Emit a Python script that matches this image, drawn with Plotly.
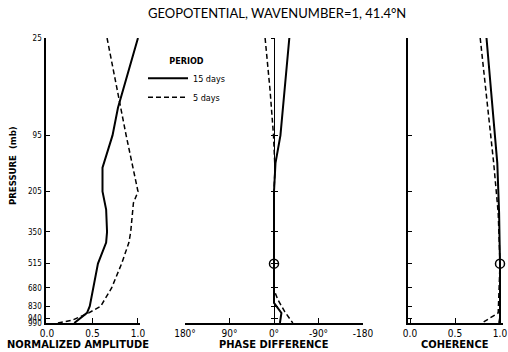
import numpy as np
import plotly.graph_objects as go

# ---------------- data ----------------
pressure_levels = [25, 95, 205, 350, 515, 680, 830, 940, 990]

amp15_p = [25, 65, 95, 148, 205, 262, 350, 400, 515, 680, 830, 890, 990]
amp15_v = [1.0, 0.78, 0.72, 0.61, 0.61, 0.65, 0.66, 0.65, 0.56, 0.51, 0.47, 0.44, 0.30]

amp5_p = [25, 51, 95, 205, 240, 350, 400, 515, 680, 830, 890, 960, 990]
amp5_v = [0.66, 0.77, 0.87, 1.0, 0.95, 0.92, 0.90, 0.82, 0.71, 0.59, 0.46, 0.28, 0.12]

ph15_p = [25, 95, 139, 205, 800, 891, 990]
ph15_v = [-31, -13, -3, 0, 0, -15, -12]

ph5_p = [25, 51, 95, 150, 205, 695, 775, 881, 990]
ph5_v = [18, 8, 1, -2, 0, 0, -8, -22, -38]

coh15_p = [25, 70, 139, 274, 515, 940, 990]
coh15_v = [0.85, 0.92, 0.97, 0.99, 1.0, 1.0, 0.99]

coh5_p = [25, 70, 139, 274, 387, 515, 891, 958, 990]
coh5_v = [0.78, 0.87, 0.93, 0.98, 0.99, 1.0, 0.98, 0.85, 0.80]

marker_p = [515]
marker_phase = [0]
marker_coh = [1.0]

amp_ticks = [0, 0.5, 1.0]
amp_ticktext = ["0.0", "0.5", "1.0"]
phase_ticks = [180, 90, 0, -90, -180]
phase_ticktext = ["180°", "90°", "0°", "-90°", "-180"]


# vertical scale: standard-atmosphere height of each pressure level
def std_height_km(p):
    p = np.asarray(p, dtype=float)
    z_trop = 44.331 * (1 - (p / 1013.25) ** 0.190263)
    z_strat = 11.0 + 6.3416 * np.log(226.32 / p)
    return np.where(p >= 226.32, z_trop, z_strat)


W, H = 508, 352
FONT = "DejaVu Sans Condensed, Liberation Sans Narrow, Liberation Sans, sans-serif"

fig = go.Figure()

solid = dict(color="black", width=2)
dashed = dict(color="black", width=1.5, dash="5px,3px")

fig.add_trace(go.Scatter(x=amp15_v, y=std_height_km(amp15_p), mode="lines", line=solid,
                         name="15 days", xaxis="x", yaxis="y", legendrank=1))
fig.add_trace(go.Scatter(x=amp5_v, y=std_height_km(amp5_p), mode="lines", line=dashed,
                         name="5 days", xaxis="x", yaxis="y", legendrank=2))
fig.add_trace(go.Scatter(x=ph15_v, y=std_height_km(ph15_p), mode="lines", line=solid,
                         showlegend=False, xaxis="x2", yaxis="y2"))
fig.add_trace(go.Scatter(x=ph5_v, y=std_height_km(ph5_p), mode="lines", line=dashed,
                         showlegend=False, xaxis="x2", yaxis="y2"))
fig.add_trace(go.Scatter(x=marker_phase, y=std_height_km(marker_p), mode="markers",
                         marker=dict(symbol="circle-open", size=9, color="black", line=dict(width=1.5)),
                         showlegend=False, xaxis="x2", yaxis="y2", cliponaxis=False))
fig.add_trace(go.Scatter(x=[0], y=std_height_km([515]), mode="markers", marker=dict(opacity=0),
                         showlegend=False, hoverinfo="skip", xaxis="x2", yaxis="y4"))
fig.add_trace(go.Scatter(x=coh15_v, y=std_height_km(coh15_p), mode="lines", line=solid,
                         showlegend=False, xaxis="x3", yaxis="y3"))
fig.add_trace(go.Scatter(x=coh5_v, y=std_height_km(coh5_p), mode="lines", line=dashed,
                         showlegend=False, xaxis="x3", yaxis="y3"))
fig.add_trace(go.Scatter(x=marker_coh, y=std_height_km(marker_p), mode="markers",
                         marker=dict(symbol="circle-open", size=9, color="black", line=dict(width=1.5)),
                         showlegend=False, xaxis="x3", yaxis="y3", cliponaxis=False))

zr = [float(std_height_km(990)), float(std_height_km(25))]
zt = [float(v) for v in std_height_km(pressure_levels)]
ydom = [29 / H, 314 / H]

yax = dict(range=zr, domain=ydom, tickvals=zt, showgrid=False, zeroline=False,
           showline=True, linecolor="black", linewidth=1.5, ticks="inside", ticklen=4,
           tickcolor="black", tickwidth=1.2, automargin=False)
xax = dict(showgrid=False, zeroline=False, showline=True, linecolor="black", linewidth=1.5,
           ticks="inside", ticklen=5, tickcolor="black", tickwidth=1.2, automargin=False,
           tickfont=dict(family=FONT, size=10, color="black"))


def label(text, x, y, size=11, angle=0):
    return dict(text=text, x=x / W, y=1 - y / H, xref="paper", yref="paper",
                xanchor="center", yanchor="middle", showarrow=False, textangle=angle,
                font=dict(family=FONT, size=size, color="black"))


fig.update_layout(
    width=W, height=H, margin=dict(l=0, r=0, t=0, b=0, autoexpand=False),
    paper_bgcolor="white", plot_bgcolor="white",
    font=dict(family=FONT, color="black"),
    xaxis=dict(xax, domain=[46.1 / W, 139.8 / W], range=[-0.01, 1.02], tickvals=amp_ticks,
               ticktext=amp_ticktext, anchor="y"),
    xaxis2=dict(xax, domain=[185 / W, 363 / W], range=[180, -180], tickvals=phase_ticks,
                ticktext=phase_ticktext, anchor="y2"),
    xaxis3=dict(xax, domain=[408.2 / W, 502.7 / W], range=[-0.02, 1.03], tickvals=amp_ticks,
                ticktext=amp_ticktext, anchor="y3"),
    yaxis=dict(yax, anchor="x", ticktext=[str(v) for v in pressure_levels], ticklabelstandoff=1,
               tickfont=dict(family=FONT, size=8, color="black")),
    yaxis2=dict(yax, anchor="free", position=274 / W, showticklabels=False, linewidth=1,
                ticklen=3),
    yaxis4=dict(yax, anchor="free", overlaying="y2", position=274 / W, showticklabels=False,
                showline=False, ticks="outside", ticklen=3),
    yaxis3=dict(yax, anchor="x3", showticklabels=False),
    showlegend=True,
    legend=dict(x=143 / W, y=1 - 52 / H, xanchor="left", yanchor="top",
                bgcolor="rgba(0,0,0,0)", font=dict(family=FONT, size=9, color="black"),
                title=dict(text="<b>PERIOD</b>", side="top center",
                           font=dict(family=FONT, size=9, color="black")),
                tracegroupgap=0, itemwidth=40),
    annotations=[
        dict(text="GEOPOTENTIAL, WAVENUMBER=1, 41.4°N", x=277 / W, y=1 - 13 / H,
             xref="paper", yref="paper", xanchor="center", yanchor="middle", showarrow=False,
             font=dict(family="Lato, DejaVu Sans, sans-serif", size=13, color="black")),
        label("<b>NORMALIZED AMPLITUDE</b>", 78, 344),
        label("<b>PHASE DIFFERENCE</b>", 274, 344),
        label("<b>COHERENCE</b>", 455, 344),
        label("<b>PRESSURE  (mb)</b>", 12, 166, size=9.5, angle=-90),
    ],
)

fig.write_html("out.html", config={"displayModeBar": False},
               post_script="document.body.style.margin='0';document.body.style.padding='0';")
